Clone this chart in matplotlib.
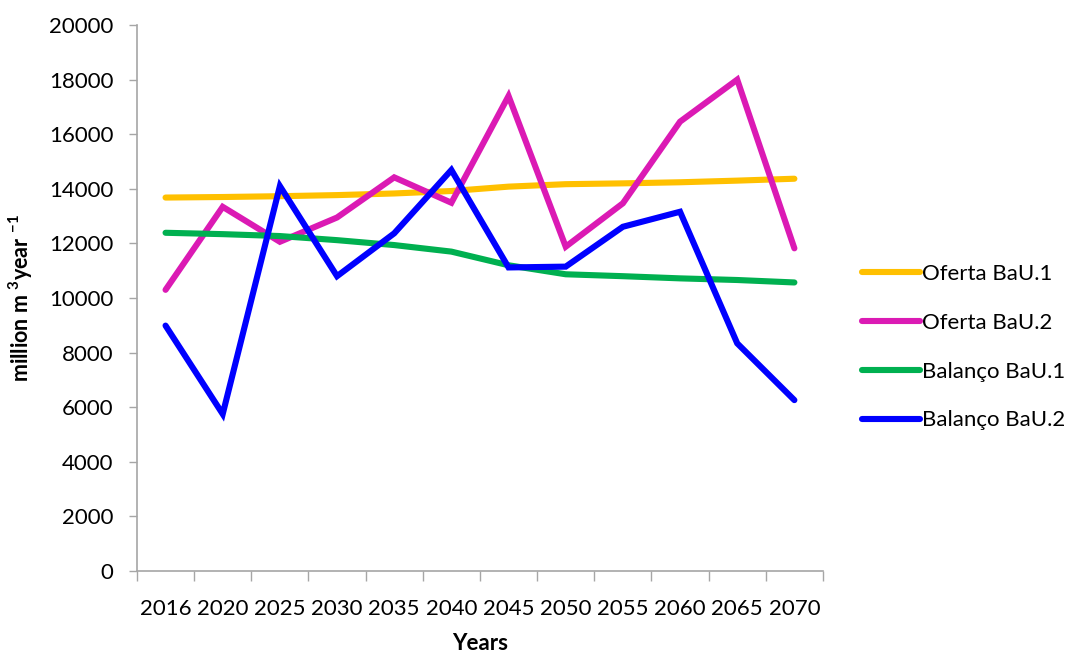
import matplotlib

matplotlib.use("Agg")
import matplotlib.pyplot as plt
import numpy as np

years = ["2016", "2020", "2025", "2030", "2035", "2040", "2045", "2050", "2055", "2060", "2065", "2070"]
oferta_bau1 = [13680, 13700, 13730, 13770, 13830, 13920, 14080, 14170, 14200, 14240, 14300, 14370]
oferta_bau2 = [10300, 13340, 12060, 12950, 14420, 13490, 17400, 11880, 13470, 16460, 18000, 11820]
balanco_bau1 = [12390, 12340, 12270, 12120, 11940, 11700, 11200, 10870, 10800, 10720, 10660, 10570]
balanco_bau2 = [8990, 5750, 14100, 10800, 12370, 14690, 11120, 11150, 12610, 13160, 8340, 6260]

series = [
    ("Oferta BaU.1", oferta_bau1, "#FFC000"),
    ("Oferta BaU.2", oferta_bau2, "#DB1AB4"),
    ("Balanço BaU.1", balanco_bau1, "#00B050"),
    ("Balanço BaU.2", balanco_bau2, "#0000FF"),
]

plt.rcParams["font.family"] = ["Lato", "DejaVu Sans"]
plt.rcParams["mathtext.default"] = "regular"

fig = plt.figure(figsize=(10.81, 6.55), dpi=100)
ax = fig.add_axes([0.1267, 0.1282, 0.6346, 0.8336])

x = np.arange(len(years))
for name, vals, color in series:
    ax.plot(x, vals, color=color, lw=4.4, label=name, solid_capstyle="round", solid_joinstyle="miter")

ax.set_xlim(-0.5, len(years) - 0.5)
ax.set_ylim(0, 20000)
ax.set_yticks(np.arange(0, 20001, 2000))
ax.set_xticks(x)
ax.set_xticklabels(years)
ax.set_xticks(np.arange(-0.5, len(years)), minor=True)
ax.tick_params(axis="x", which="major", length=0, pad=20, labelsize=16)
ax.tick_params(axis="x", which="minor", length=7, color="#A6A6A6", width=1)
ax.tick_params(axis="y", length=6, color="#A6A6A6", width=1, labelsize=16, pad=11)

for side in ("top", "right"):
    ax.spines[side].set_visible(False)
for side in ("left", "bottom"):
    ax.spines[side].set_color("#A6A6A6")
    ax.spines[side].set_linewidth(1.2)

ax.set_xlabel("Years", fontsize=16, fontweight="bold", labelpad=10)
ax.set_ylabel(r"million m $^{3}$year $^{-1}$", fontsize=15.5, fontweight="bold", labelpad=10)

ax.legend(loc="center left", bbox_to_anchor=(1.057, 0.41), frameon=False, fontsize=16,
          handlelength=2.6, handletextpad=0.1, labelspacing=1.3, borderpad=0, borderaxespad=0)

fig.savefig("out.png", dpi=100)
